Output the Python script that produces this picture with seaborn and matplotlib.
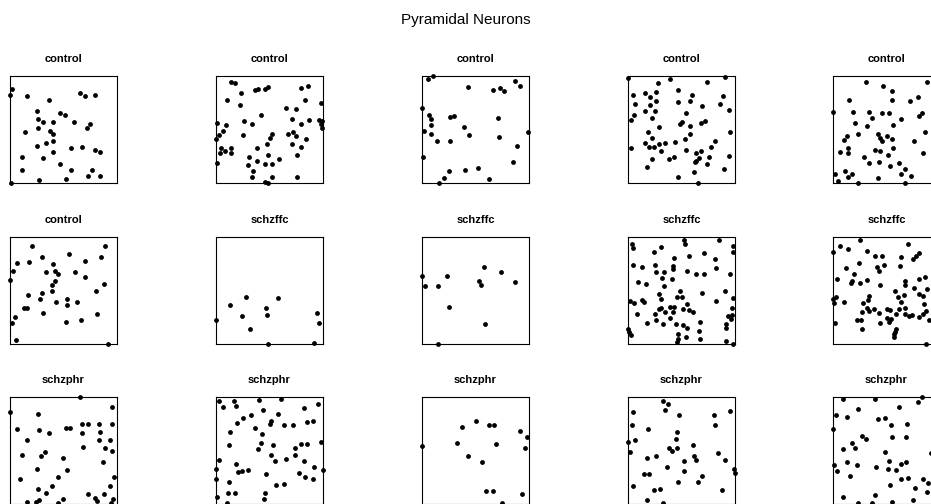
import numpy as np
import pandas as pd
import seaborn as sns
from matplotlib import pyplot as plt

# point patterns, coordinates in the unit window (x from left, y from bottom)
titles = ['control'] * 6 + ['schzffc'] * 4 + ['schzphr'] * 5

pts_01 = [(.02, .88), (.00, .82), (.16, .81), (.36, .78), (.65, .84), (.70, .81), (.79, .82),
          (.25, .67), (.47, .65), (.51, .64), (.26, .60), (.31, .57), (.40, .57), (.60, .57),
          (.75, .55), (.72, .51), (.14, .48), (.26, .51), (.37, .49), (.40, .46), (.40, .39),
          (.34, .37), (.25, .35), (.57, .33), (.67, .34), (.79, .31), (.84, .29), (.40, .29),
          (.11, .24), (.31, .23), (.47, .18), (.11, .12), (.57, .12), (.77, .12), (.73, .07),
          (.84, .07), (.52, .04), (.27, .03), (.01, .00)]
pts_02 = [(.14, .94), (.18, .93), (.10, .78), (.23, .84), (.36, .87), (.39, .88), (.46, .88),
          (.49, .90), (.22, .73), (.79, .89), (.86, .91), (.83, .78), (.98, .75), (.42, .64),
          (.65, .70), (.75, .69), (.71, .60), (.87, .59), (.79, .55), (.96, .59), (.99, .58),
          (.98, .55), (.99, .51), (.01, .56), (.09, .54), (.07, .49), (.26, .58), (.34, .55),
          (.03, .45), (.00, .41), (.25, .45), (.52, .46), (.50, .42), (.67, .46), (.72, .48),
          (.75, .44), (.84, .41), (.05, .33), (.14, .33), (.08, .30), (.04, .28), (.14, .28),
          (.38, .33), (.48, .36), (.71, .36), (.79, .34), (.31, .24), (.49, .26), (.38, .21),
          (.59, .22), (.76, .26), (.01, .19), (.30, .17), (.46, .18), (.52, .18), (.35, .11),
          (.34, .06), (.52, .06), (.76, .06), (.46, .01), (.49, .00)]
pts_03 = [(.06, .97), (.10, 1.0), (.43, .90), (.66, .87), (.73, .89), (.77, .86), (.87, .95),
          (.92, .91), (.00, .70), (.07, .64), (.08, .60), (.08, .54), (.02, .49), (.08, .46),
          (.26, .62), (.30, .63), (.39, .52), (.44, .45), (.71, .61), (.72, .43), (.99, .48),
          (.14, .39), (.26, .39), (.89, .35), (.01, .24), (.85, .20), (.52, .14), (.40, .12),
          (.25, .11), (.21, .05), (.63, .04), (.16, .00)]
pts_04 = [(.00, .98), (.39, .97), (.28, .93), (.74, .94), (.91, .99), (.05, .82), (.16, .84),
          (.21, .80), (.26, .85), (.47, .87), (.60, .82), (.89, .81), (.07, .74), (.21, .73),
          (.26, .77), (.47, .76), (.58, .77), (.69, .72), (.86, .74), (.06, .64), (.03, .59),
          (.16, .67), (.25, .67), (.22, .61), (.54, .65), (.94, .68), (.50, .57), (.49, .55),
          (.58, .53), (.68, .56), (.72, .58), (.29, .52), (.19, .48), (.22, .42), (.95, .48),
          (.58, .46), (.53, .41), (.16, .37), (.20, .34), (.24, .34), (.29, .36), (.35, .37),
          (.44, .38), (.81, .39), (.78, .34), (.03, .33), (.31, .30), (.54, .31), (.64, .28),
          (.68, .30), (.43, .24), (.38, .22), (.22, .22), (.66, .23), (.64, .21), (.63, .20),
          (.76, .24), (.94, .25), (.74, .18), (.18, .15), (.90, .13), (.62, .10), (.47, .06),
          (.65, .00)]
pts_05 = [(.31, .94), (.47, .91), (.55, .86), (.88, .94), (.15, .78), (.55, .78), (.72, .77),
          (.79, .80), (.00, .66), (.19, .66), (.34, .66), (.36, .61), (.46, .65), (.52, .65),
          (.64, .60), (.80, .63), (.83, .65), (.21, .56), (.32, .53), (.56, .54), (.86, .48),
          (.23, .46), (.42, .46), (.44, .42), (.46, .39), (.50, .44), (.55, .41), (.13, .44),
          (.10, .40), (.76, .39), (.14, .33), (.14, .28), (.07, .29), (.39, .31), (.44, .30),
          (.56, .33), (.84, .28), (.29, .24), (.34, .19), (.43, .20), (.51, .26), (.53, .16),
          (.62, .19), (.67, .13), (.64, .08), (.73, .07), (.02, .08), (.11, .11), (.14, .06),
          (.18, .08), (.05, .02), (.23, .00), (.42, .05), (.67, .00)]
pts_06 = [(.21, .92), (.89, .92), (.55, .84), (.07, .76), (.18, .77), (.30, .81), (.40, .75),
          (.70, .78), (.85, .81), (.03, .68), (.34, .67), (.42, .68), (.45, .65), (.61, .67),
          (.70, .63), (.00, .60), (.42, .59), (.39, .55), (.88, .56), (.30, .48), (.39, .50),
          (.17, .46), (.80, .50), (.28, .42), (.43, .39), (.53, .42), (.53, .36), (.63, .39),
          (.13, .34), (.16, .34), (.31, .29), (.81, .28), (.05, .25), (.02, .20), (.52, .21),
          (.66, .22), (.06, .04), (.92, .00)]
pts_07 = [(.28, .44), (.58, .43), (.13, .36), (.47, .34), (.24, .26), (.48, .27), (.94, .29),
          (.00, .22), (.96, .20), (.32, .14), (.49, .00), (.92, .01)]
pts_08 = [(.00, .64), (.03, .54), (.15, .54), (.23, .64), (.58, .72), (.74, .67), (.53, .59),
          (.55, .55), (.87, .58), (.25, .35), (.59, .19), (.15, .00)]
pts_09 = [(.04, .93), (.05, .90), (.31, .91), (.52, .97), (.53, .93), (.85, .97), (.98, .92),
          (.98, .86), (.24, .86), (.43, .80), (.57, .82), (.71, .85), (.81, .79), (.05, .74),
          (.13, .72), (.25, .74), (.42, .73), (.26, .67), (.34, .67), (.42, .70), (.55, .68),
          (.64, .65), (.71, .65), (.82, .71), (.95, .65), (.32, .62), (.41, .61), (.09, .58),
          (.17, .56), (.34, .54), (.69, .48), (.91, .50), (.49, .50), (.29, .47), (.31, .42),
          (.46, .44), (.50, .44), (.13, .41), (.15, .39), (.02, .40), (.06, .38), (.98, .43),
          (.82, .40), (.55, .37), (.51, .33), (.57, .32), (.43, .35), (.39, .35), (.31, .34),
          (.29, .33), (.35, .30), (.42, .30), (.25, .28), (.08, .28), (.61, .30), (.97, .34),
          (.39, .24), (.97, .27), (.93, .26), (.96, .23), (.26, .22), (.18, .20), (.33, .19),
          (.45, .19), (.51, .18), (.67, .21), (.92, .19), (.92, .15), (.55, .15), (.00, .14),
          (.01, .11), (.03, .08), (.66, .12), (.47, .09), (.54, .07), (.67, .05), (.47, .05),
          (.46, .02), (.92, .03), (.98, .00)]
pts_10 = [(.07, .92), (.25, .97), (.14, .89), (.32, .87), (.00, .86), (.39, .82), (.46, .82),
          (.70, .93), (.80, .85), (.78, .82), (.75, .79), (.64, .81), (.24, .76), (.41, .72),
          (.48, .74), (.63, .73), (.12, .71), (.43, .68), (.20, .65), (.32, .60), (.04, .61),
          (.18, .59), (.17, .57), (.25, .57), (.80, .61), (.86, .63), (.67, .59), (.44, .55),
          (.67, .55), (.76, .52), (.88, .51), (.58, .50), (.80, .47), (.84, .45), (.66, .46),
          (.61, .44), (.00, .42), (.01, .38), (.03, .44), (.10, .39), (.34, .45), (.33, .41),
          (.28, .38), (.64, .39), (.32, .34), (.34, .31), (.38, .33), (.27, .30), (.43, .29),
          (.50, .33), (.53, .32), (.67, .34), (.62, .33), (.85, .37), (.87, .31), (.84, .28),
          (.80, .25), (.67, .28), (.71, .26), (.74, .27), (.59, .28), (.54, .23), (.50, .24),
          (.44, .20), (.52, .21), (.22, .22), (.26, .22), (.02, .20), (.27, .14), (.90, .22),
          (.59, .14), (.58, .11), (.57, .09), (.57, .07), (.87, .00)]
pts_11 = [(.65, 1.0), (.95, .91), (.00, .86), (.26, .84), (.07, .70), (.27, .69), (.36, .66),
          (.52, .71), (.56, .71), (.67, .75), (.73, .75), (.83, .75), (.95, .75), (.67, .66),
          (.84, .67), (.83, .60), (.93, .60), (.16, .60), (.68, .53), (.89, .52), (.95, .50),
          (.33, .49), (.29, .45), (.11, .46), (.50, .43), (.87, .39), (.25, .33), (.53, .32),
          (.97, .25), (.09, .23), (.45, .25), (.39, .17), (.93, .17), (.26, .14), (.34, .10),
          (.73, .09), (.88, .09), (.79, .06), (.81, .03), (.96, .05), (.50, .05), (.27, .04),
          (.24, .02), (.16, .02), (.45, .01), (.94, .01)]
pts_12 = [(.03, .96), (.07, .91), (.17, .96), (.19, .92), (.40, .97), (.61, .98), (.44, .88),
          (.33, .83), (.25, .80), (.20, .76), (.51, .78), (.50, .75), (.58, .84), (.64, .74),
          (.72, .74), (.82, .90), (.95, .93), (.85, .77), (.91, .78), (.36, .71), (.13, .67),
          (.43, .65), (.12, .55), (.42, .57), (.39, .51), (.53, .55), (.74, .52), (.79, .56),
          (.85, .56), (.98, .58), (.74, .46), (.51, .46), (.55, .40), (.65, .42), (.82, .40),
          (.03, .41), (.00, .33), (.19, .37), (.21, .30), (.24, .31), (.30, .32), (.47, .28),
          (.78, .29), (.92, .35), (1.0, .32), (.83, .25), (.91, .23), (.00, .23), (.12, .21),
          (.56, .18), (.64, .19), (.11, .10), (.18, .10), (.46, .10), (.45, .05), (.01, .07),
          (.10, .01)]
pts_13 = [(.37, .72), (.50, .78), (.63, .74), (.67, .74), (.92, .68), (.98, .63), (.00, .54),
          (.33, .57), (.69, .56), (.96, .52), (.43, .45), (.56, .39), (.60, .12), (.66, .12),
          (.93, .09), (.75, .01)]
pts_14 = [(.33, .96), (.37, .93), (.35, .88), (.05, .86), (.48, .83), (.80, .83), (.95, .87),
          (.04, .74), (.81, .74), (.19, .70), (.46, .67), (.45, .61), (.07, .60), (.00, .58),
          (.02, .49), (.38, .52), (.41, .50), (.46, .52), (.61, .55), (.84, .48), (.18, .43),
          (.26, .45), (.62, .45), (.64, .41), (.52, .40), (.91, .41), (.36, .35), (.52, .31),
          (.99, .33), (1.0, .29), (.15, .28), (.20, .28), (.69, .26), (.47, .21), (.65, .21),
          (.05, .17), (.24, .13), (.30, .14), (.88, .13), (.18, .04), (.33, .01)]
pts_15 = [(.09, .98), (.39, .98), (.83, 1.0), (.79, .95), (.62, .91), (.23, .89), (.03, .83),
          (.13, .81), (.42, .79), (.49, .80), (.54, .74), (.69, .75), (.00, .70), (.27, .64),
          (.31, .61), (.55, .63), (.68, .63), (.18, .57), (.21, .52), (.09, .51), (.49, .49),
          (.92, .48), (.52, .40), (.01, .36), (.04, .31), (.13, .39), (.22, .36), (.40, .35),
          (.51, .33), (.59, .32), (.64, .37), (.68, .39), (.16, .26), (.64, .23), (.70, .24),
          (.84, .23), (.89, .20), (.53, .18), (.77, .15), (.88, .11), (.09, .07), (.39, .08),
          (.75, .04), (.55, .02), (.36, .01), (.23, .01)]

patterns = [pts_01, pts_02, pts_03, pts_04, pts_05, pts_06, pts_07, pts_08,
            pts_09, pts_10, pts_11, pts_12, pts_13, pts_14, pts_15]

sns.set_style('white')
plt.rcParams['font.family'] = ['Liberation Sans', 'DejaVu Sans']
plt.rcParams['text.color'] = 'black'

W, H = 931, 504
fig = plt.figure(figsize=(W / 100, H / 100), dpi=100)

# panel placement in pixels
col_left = [10, 216, 422, 628, 833]
row_top = [76, 237, 397]
box = 107

for i, pts in enumerate(patterns):
    r, c = divmod(i, 5)
    ax = fig.add_axes([col_left[c] / W, (H - row_top[r] - box) / H, box / W, box / H])
    df = pd.DataFrame(pts, columns=['x', 'y'])
    sns.scatterplot(data=df, x='x', y='y', ax=ax, color='black', s=12,
                    linewidth=0, clip_on=False)
    ax.set_xlim(0, 1)
    ax.set_ylim(0, 1)
    ax.set_xticks([])
    ax.set_yticks([])
    ax.set_xlabel('')
    ax.set_ylabel('')
    for sp in ax.spines.values():
        sp.set_color('black')
        sp.set_linewidth(0.8)
    ax.set_title(titles[i], fontsize=8, fontweight='bold', pad=10, color='black')

fig.suptitle('Pyramidal Neurons', fontsize=11, y=1 - 20 / H, va='center', color='black')

fig.savefig('out.png', dpi=100)
